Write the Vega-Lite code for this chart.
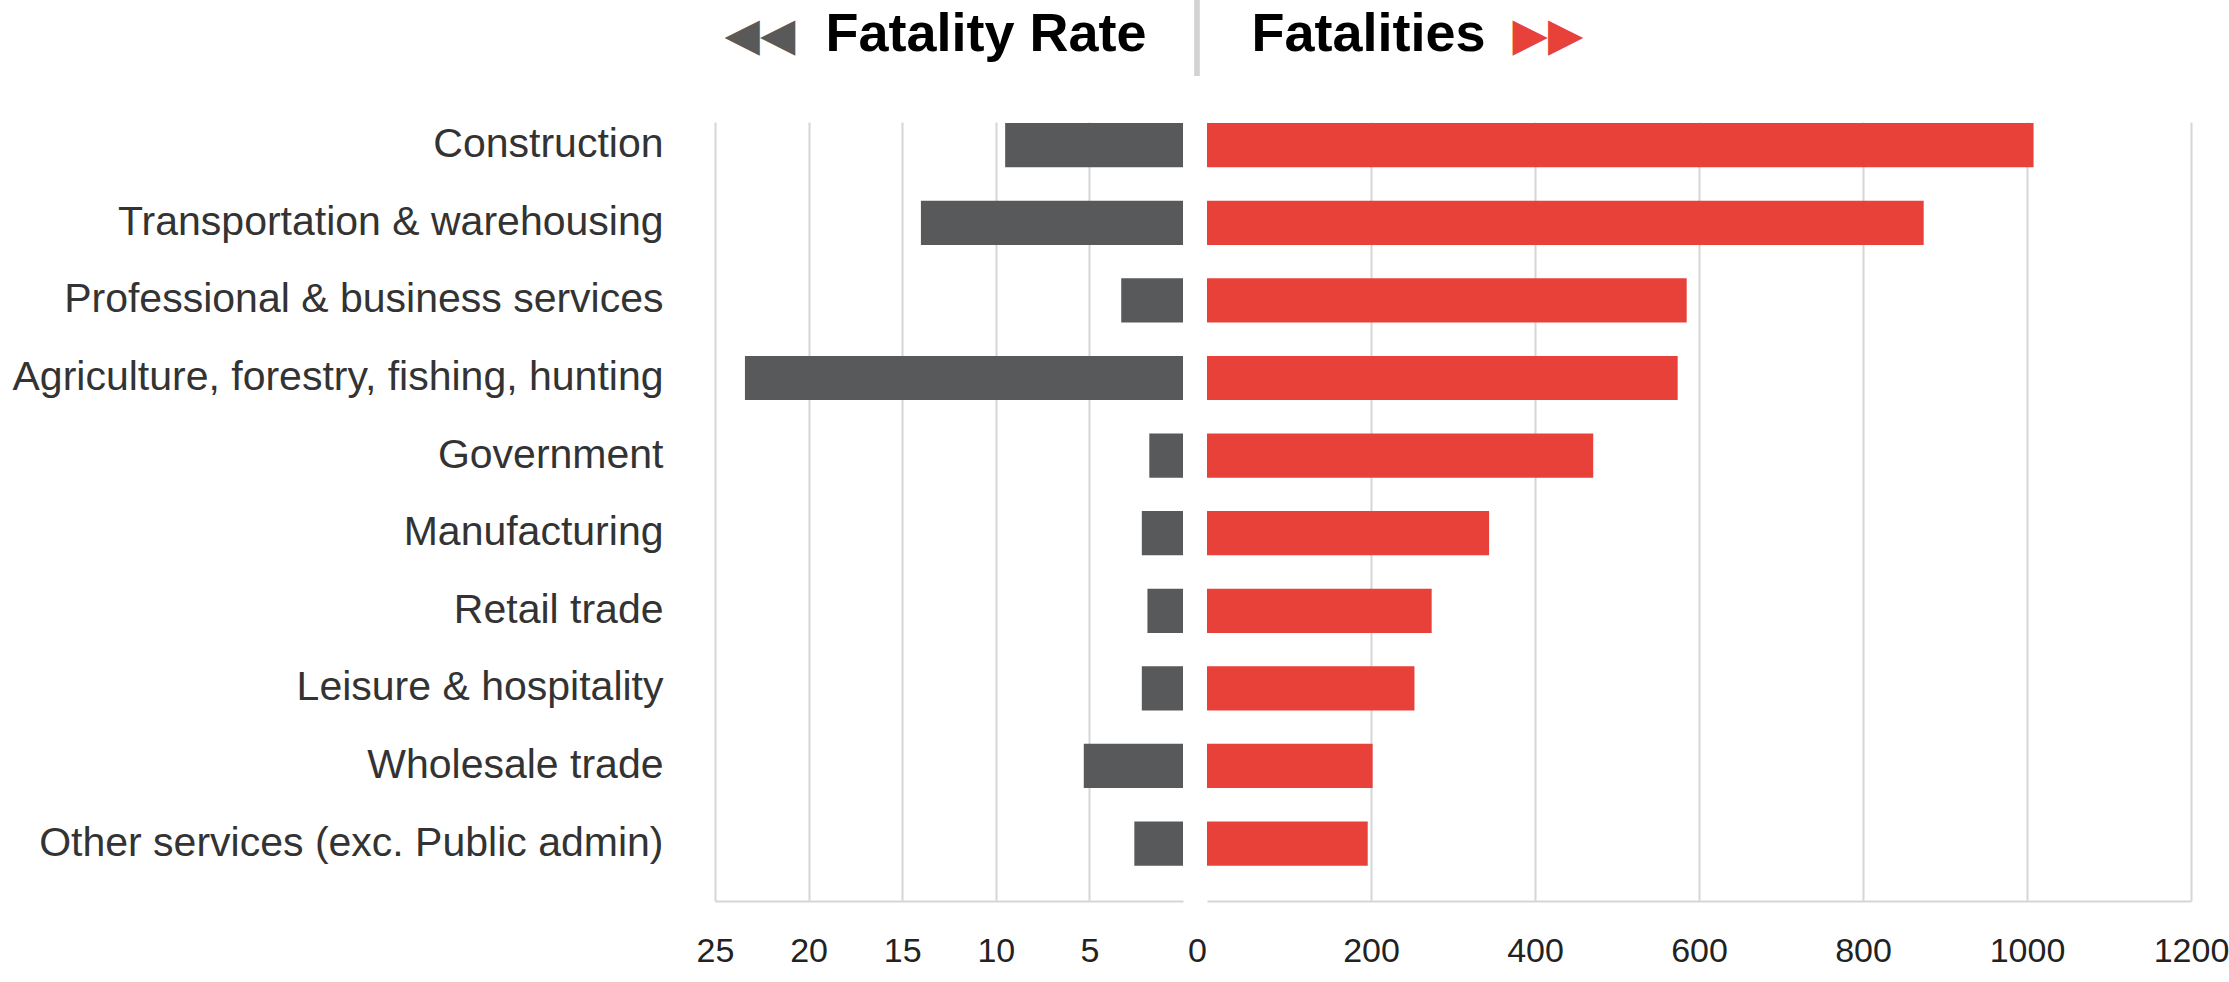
{
  "$schema": "https://vega.github.io/schema/vega-lite/v6.json",
  "background": "white",
  "padding": {"left": 12, "top": 0, "right": 2, "bottom": 4},
  "autosize": {"type": "pad"},
  "bounds": "flush",
  "spacing": 24,
  "title": {
    "text": "│",
    "orient": "top",
    "anchor": "start",
    "frame": "bounds",
    "offset": -66,
    "align": "center",
    "baseline": "top",
    "dx": 1185,
    "font": "DejaVu Sans",
    "fontSize": 72,
    "fontWeight": "normal",
    "color": "#d3d3d3"
  },
  "data": {
    "values": [
      {"industry": "Construction", "rate": 9.5, "fatalities": 1008},
      {"industry": "Transportation & warehousing", "rate": 14.0, "fatalities": 874},
      {"industry": "Professional & business services", "rate": 3.3, "fatalities": 585},
      {"industry": "Agriculture, forestry, fishing, hunting", "rate": 23.4, "fatalities": 574},
      {"industry": "Government", "rate": 1.8, "fatalities": 471},
      {"industry": "Manufacturing", "rate": 2.2, "fatalities": 344},
      {"industry": "Retail trade", "rate": 1.9, "fatalities": 274},
      {"industry": "Leisure & hospitality", "rate": 2.2, "fatalities": 253},
      {"industry": "Wholesale trade", "rate": 5.3, "fatalities": 202},
      {"industry": "Other services (exc. Public admin)", "rate": 2.6, "fatalities": 196}
    ]
  },
  "config": {"view": {"stroke": null}},
  "resolve": {"scale": {"x": "independent", "y": "independent"}},
  "hconcat": [
    {
      "width": 468,
      "height": 779,
      "mark": {"type": "bar", "color": "#58595b"},
      "encoding": {
        "y": {
          "field": "industry",
          "type": "nominal",
          "sort": null,
          "scale": {"paddingInner": 0.43, "paddingOuter": 0.2345, "align": 0.03},
          "axis": {
            "title": "◀◀",
            "titleX": 9,
            "titleY": -87,
            "titleAngle": 0,
            "titleAlign": "left",
            "titleBaseline": "middle",
            "titleFont": "DejaVu Sans",
            "titleFontSize": 46,
            "titleFontWeight": "normal",
            "titleColor": "#595959",
            "labelFont": "Liberation Sans",
            "labelFontSize": 41,
            "labelColor": "#333333",
            "labelPadding": 52,
            "labelLimit": 1000,
            "ticks": false,
            "domain": false,
            "grid": false
          }
        },
        "x": {
          "field": "rate",
          "type": "quantitative",
          "scale": {"domain": [0, 25], "reverse": true, "nice": false},
          "axis": {
            "values": [5, 10, 15, 20, 25],
            "format": "d",
            "grid": true,
            "gridColor": "#d6d6d6",
            "gridWidth": 2,
            "domain": true,
            "domainColor": "#d6d6d6",
            "domainWidth": 2,
            "ticks": false,
            "labelFlush": false,
            "labelFont": "Liberation Sans",
            "labelFontSize": 34,
            "labelColor": "#222222",
            "labelBaseline": "alphabetic",
            "labelPadding": 60,
            "title": "Fatality Rate",
            "titleX": 431,
            "titleY": -851,
            "titleAngle": 0,
            "titleAlign": "right",
            "titleBaseline": "alphabetic",
            "titleFont": "Liberation Sans",
            "titleFontSize": 54,
            "titleFontWeight": "bold",
            "titleColor": "#000000"
          }
        }
      }
    },
    {
      "width": 984,
      "height": 779,
      "mark": {"type": "bar", "color": "#e8413a"},
      "encoding": {
        "y": {
          "field": "industry",
          "type": "nominal",
          "sort": null,
          "scale": {"paddingInner": 0.43, "paddingOuter": 0.2345, "align": 0.03},
          "axis": {
            "labels": false,
            "ticks": false,
            "domain": false,
            "grid": false,
            "title": "▶▶",
            "titleX": 305,
            "titleY": -87,
            "titleAngle": 0,
            "titleAlign": "left",
            "titleBaseline": "middle",
            "titleFont": "DejaVu Sans",
            "titleFontSize": 46,
            "titleFontWeight": "normal",
            "titleColor": "#e8413a"
          }
        },
        "x": {
          "field": "fatalities",
          "type": "quantitative",
          "scale": {"domain": [0, 1200], "nice": false},
          "axis": {
            "values": [0, 200, 400, 600, 800, 1000, 1200],
            "format": "d",
            "grid": true,
            "gridColor": {"condition": {"test": "datum.value === 0", "value": "transparent"}, "value": "#d6d6d6"},
            "gridWidth": 2,
            "domain": true,
            "domainColor": "#d6d6d6",
            "domainWidth": 2,
            "ticks": false,
            "labelFlush": false,
            "labelOffset": {"condition": {"test": "datum.value === 0", "value": -10}, "value": 0},
            "labelFont": "Liberation Sans",
            "labelFontSize": 34,
            "labelColor": "#222222",
            "labelBaseline": "alphabetic",
            "labelPadding": 60,
            "title": "Fatalities",
            "titleX": 44,
            "titleY": -851,
            "titleAngle": 0,
            "titleAlign": "left",
            "titleBaseline": "alphabetic",
            "titleFont": "Liberation Sans",
            "titleFontSize": 54,
            "titleFontWeight": "bold",
            "titleColor": "#000000"
          }
        }
      }
    }
  ]
}
